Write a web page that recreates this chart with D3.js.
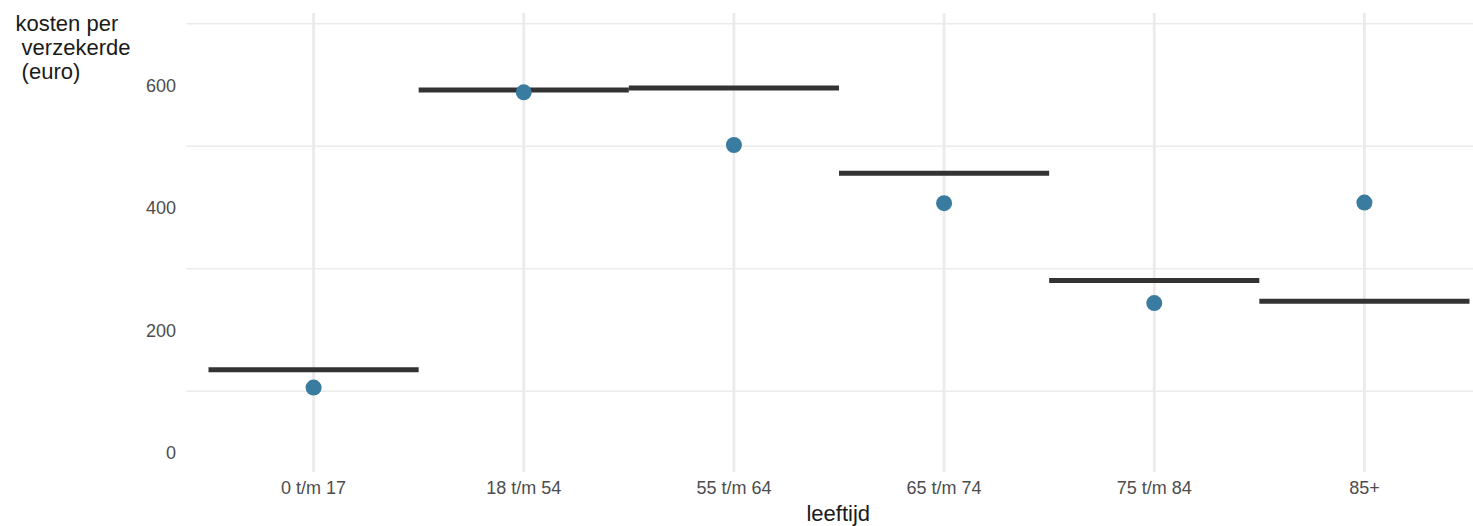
<!DOCTYPE html>
<html>
<head>
<meta charset="utf-8">
<script src="https://cdn.jsdelivr.net/npm/d3@7"></script>
<style>
  html, body { margin: 0; padding: 0; background: #ffffff; }
  svg { display: block; }
  text { font-family: "Liberation Sans", Arial, sans-serif; }
</style>
</head>
<body>
<svg id="chart" width="1473" height="526"></svg>
<script>
// ---- data ----
const categories = ["0 t/m 17", "18 t/m 54", "55 t/m 64", "65 t/m 74", "75 t/m 84", "85+"];
const pointValues = [106, 588, 502, 407, 244, 408];
const lineValues = [135, 592, 595, 456, 281, 247];
const yTicks = [0, 200, 400, 600];
const yMinorTicks = [100, 300, 500, 700];
const yTitleLines = ["kosten per", " verzekerde", " (euro)"];
const xTitle = "leeftijd";

// ---- layout ----
const W = 1473, H = 526;
const panel = { left: 186.5, right: 1490, top: 13, bottom: 472 };
const svg = d3.select("#chart");

// discrete scale with ggplot-like 0.6 expansion
const x = d3.scaleBand()
  .domain(categories)
  .range([208.5, 1469.5])
  .padding(0);

const y = d3.scaleLinear()
  .domain([0, 700])
  .range([452.5, 23.75]);

// minor horizontal gridlines
svg.append("g")
  .selectAll("line")
  .data(yMinorTicks)
  .join("line")
  .attr("x1", panel.left)
  .attr("x2", W)
  .attr("y1", d => y(d))
  .attr("y2", d => y(d))
  .attr("stroke", "#ebebeb")
  .attr("stroke-width", 1.5);

// vertical major gridlines
svg.append("g")
  .selectAll("line")
  .data(categories)
  .join("line")
  .attr("x1", d => x(d) + x.bandwidth() / 2)
  .attr("x2", d => x(d) + x.bandwidth() / 2)
  .attr("y1", panel.top)
  .attr("y2", panel.bottom)
  .attr("stroke", "#ebebeb")
  .attr("stroke-width", 2.8);

// y axis tick labels
const yAxis = d3.axisLeft(y).tickValues(yTicks).tickSize(0).tickPadding(0);
const gy = svg.append("g").attr("transform", "translate(176,0)").call(yAxis);
gy.select(".domain").remove();
gy.selectAll("text")
  .attr("font-size", 18)
  .attr("fill", "#4d4d4d")
  .attr("font-family", "Liberation Sans, Arial, sans-serif")
  .attr("dy", "0.36em");

// x axis tick labels
const xAxis = d3.axisBottom(x).tickSize(0).tickPadding(0);
const gx = svg.append("g").attr("transform", "translate(0,481)").call(xAxis);
gx.select(".domain").remove();
gx.selectAll("text")
  .attr("font-size", 18)
  .attr("fill", "#4d4d4d")
  .attr("font-family", "Liberation Sans, Arial, sans-serif")
  .attr("dy", "0.71em");

// crossbar-like segments
svg.append("g")
  .selectAll("line")
  .data(categories)
  .join("line")
  .attr("x1", d => x(d))
  .attr("x2", d => x(d) + x.bandwidth())
  .attr("y1", (d, i) => y(lineValues[i]))
  .attr("y2", (d, i) => y(lineValues[i]))
  .attr("stroke", "#333333")
  .attr("stroke-width", 5);

// points
svg.append("g")
  .selectAll("circle")
  .data(categories)
  .join("circle")
  .attr("cx", d => x(d) + x.bandwidth() / 2)
  .attr("cy", (d, i) => y(pointValues[i]))
  .attr("r", 8)
  .attr("fill", "#3a7ba0");

// y title
const yt = svg.append("text")
  .attr("font-size", 22)
  .attr("fill", "#1a1a1a")
  .attr("xml:space", "preserve")
  .style("white-space", "pre");
yt.selectAll("tspan")
  .data(yTitleLines)
  .join("tspan")
  .attr("x", 15.5)
  .attr("y", (d, i) => 30.5 + i * 24)
  .text(d => d);

// x title
svg.append("text")
  .attr("x", (panel.left + panel.right) / 2)
  .attr("y", 521)
  .attr("text-anchor", "middle")
  .attr("font-size", 22)
  .attr("fill", "#1a1a1a")
  .text(xTitle);
</script>
</body>
</html>
